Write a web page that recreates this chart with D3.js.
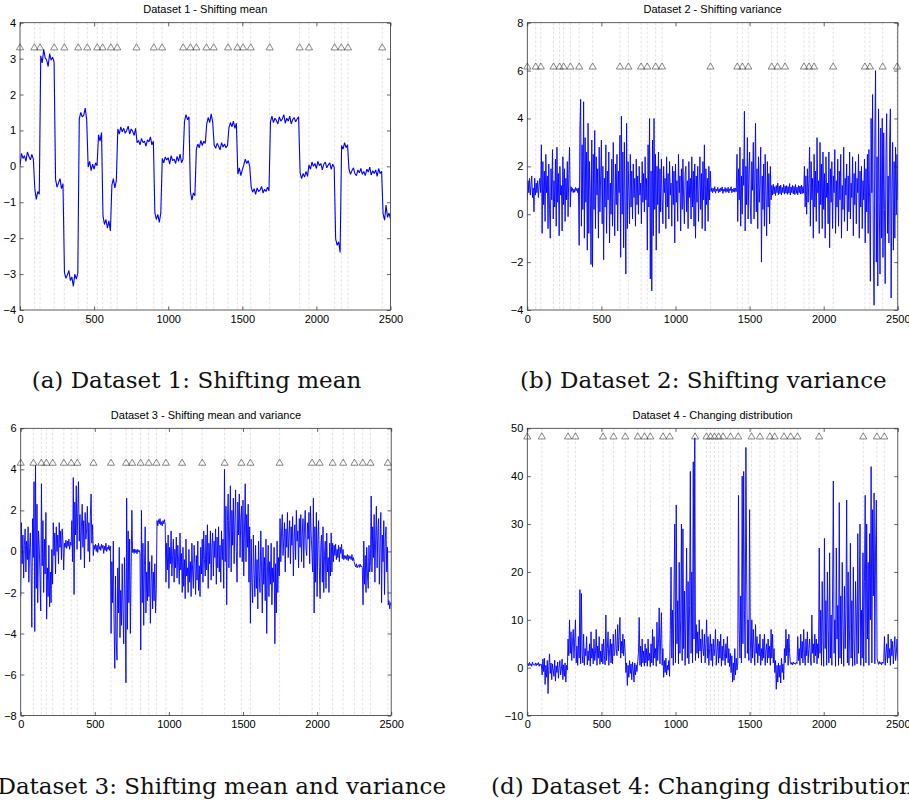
<!DOCTYPE html>
<html>
<head>
<meta charset="utf-8">
<script src="https://cdn.jsdelivr.net/npm/d3@7"></script>
<style>
  body { margin: 0; background: #fff; }
  svg { display: block; }
</style>
</head>
<body>
<svg id="fig" width="909" height="807"></svg>
<script>
// ---- data -------------------------------------------------------------
// time between stored samples of each series (t runs 0 .. 2500)
const sampleSteps = [10, 5, 5, 5];
const xTicks = [0, 500, 1000, 1500, 2000, 2500];

const titles = [
  "Dataset 1 - Shifting mean",
  "Dataset 2 - Shifting variance",
  "Dataset 3 - Shifting mean and variance",
  "Dataset 4 - Changing distribution"
];
const captions = [
  "(a) Dataset 1: Shifting mean",
  "(b) Dataset 2: Shifting variance",
  "(c) Dataset 3: Shifting mean and variance",
  "(d) Dataset 4: Changing distribution"
];

const yTicks1 = [-4, -3, -2, -1, 0, 1, 2, 3, 4];
const yTicks2 = [-4, -2, 0, 2, 4, 6, 8];
const yTicks3 = [-8, -6, -4, -2, 0, 2, 4, 6];
const yTicks4 = [-10, 0, 10, 20, 30, 40, 50];

// level at which the change-point markers sit
const markerLevels = [3.3, 6.15, 4.3, 48.2];

const changes1 = [0, 97, 135, 231, 299, 393, 454, 521, 557, 613, 656, 786, 903, 959, 1101,
  1150, 1190, 1258, 1307, 1404, 1467, 1505, 1557, 1685, 1887, 1950, 2123, 2168, 2213, 2444];
const changes2 = [0, 57, 91, 177, 218, 245, 291, 350, 441, 625, 682, 768, 809, 866, 909,
  1236, 1417, 1451, 1491, 1649, 1688, 1739, 1867, 1901, 1935, 2064, 2278, 2312, 2398, 2495];
const changes3 = [0, 86, 139, 173, 216, 291, 341, 382, 491, 609, 711, 752, 809, 864, 916,
  980, 1089, 1225, 1376, 1489, 1550, 1747, 1966, 2017, 2105, 2176, 2252, 2308, 2360, 2477];
const changes4 = [0, 98, 275, 325, 511, 582, 661, 745, 791, 830, 916, 961, 1132, 1209, 1236,
  1263, 1291, 1321, 1371, 1423, 1513, 1570, 1637, 1669, 1732, 1777, 1823, 1969, 2267, 2359, 2409];

// one row = 100 time units
const series1 = [
  0.02, 0.36, 0.22, 0.30, 0.14, 0.40, 0.28, 0.18, 0.33, 0.20,
  -0.62, -0.92, -0.70, -0.78, 3.08, 2.88, 3.26, 3.02, 2.96, 2.78,
  3.14, 2.96, 3.04, 2.90, -0.36, -0.58, -0.46, -0.34, -0.62, -0.48,
  -2.96, -3.12, -3.02, -2.90, -3.18, -3.08, -3.34, -3.00, -3.14, -2.98,
  1.32, 1.50, 1.38, 1.42, 1.62, 1.30, -0.02, 0.14, -0.12, 0.06,
  -0.08, 0.10, 0.02, 0.88, 0.70, 0.94, -1.38, -1.62, -1.48, -1.72,
  -1.52, -1.80, -0.52, -0.34, -0.60, -0.40, 1.04, 0.90, 1.10, 0.96,
  1.06, 0.92, 1.00, 1.12, 0.90, 1.04, 0.98, 0.86, 1.06, 0.66,
  0.72, 0.60, 0.78, 0.66, 0.70, 0.56, 0.74, 0.68, 0.82, 0.60,
  0.70, -1.28, -1.48, -1.34, -1.56, -1.30, 0.22, 0.10, 0.26, 0.18,
  0.24, 0.06, 0.30, 0.16, 0.20, 0.08, 0.28, 0.14, 0.34, 0.10,
  0.20, 1.26, 1.44, 1.30, 1.38, -0.70, -0.94, -0.74, -0.82, 0.48,
  0.62, 0.52, 0.72, 0.58, 0.70, 0.64, 1.18, 1.36, 1.22, 1.46,
  1.24, 0.60, 0.50, 0.64, 0.56, 0.46, 0.66, 0.54, 0.62, 0.52,
  0.58, 1.08, 1.22, 1.10, 1.26, 1.06, 1.20, -0.22, -0.04, -0.26,
  -0.10, 0.04, 0.20, 0.08, 0.16, 0.00, -0.58, -0.72, -0.62, -0.78,
  -0.60, -0.70, -0.66, -0.56, -0.74, -0.64, -0.70, -0.58, -0.68, 1.24,
  1.40, 1.22, 1.34, 1.28, 1.18, 1.38, 1.26, 1.32, 1.44, 1.20,
  1.34, 1.26, 1.40, 1.18, 1.30, 1.36, 1.24, 1.32, 1.38, -0.18,
  -0.34, -0.20, -0.30, -0.14, -0.28, 0.04, -0.08, 0.12, 0.00, 0.08,
  -0.06, 0.14, 0.02, 0.08, -0.10, 0.06, 0.12, -0.04, 0.04, 0.10,
  -0.08, 0.06, -0.02, -2.02, -2.20, -2.10, -2.40, 0.58, 0.48, 0.66,
  0.52, 0.60, -0.08, -0.22, -0.12, -0.04, -0.20, -0.26, -0.10, -0.18,
  -0.06, -0.22, -0.14, -0.26, -0.08, -0.16, -0.02, -0.24, -0.12, -0.20,
  -0.10, -0.28, -0.06, -0.20, -0.14, -1.32, -1.50, -1.08, -1.42, -1.30,
  -1.46
];

// one row = 50 time units
const series2 = [
  0.6, 1.4, 0.9, 1.5, 0.8, 1.2, 1.6, 0.7, 1.1, 0.1,
  1.5, 0.8, 1.3, 0.9, 1.4, 0.7, 1.2, 1.5, 0.9, 2.9,
  -0.8, 2.2, 0.4, 1.8, -0.3, 2.5, 0.9, 1.6, -0.6, 2.1,
  0.2, -1.0, 1.9, 0.6, 2.7, -0.2, 1.4, 0.3, 2.3, -0.5,
  2.8, 0.5, 1.7, -0.9, 2.0, 0.8, 1.2, -0.7, 2.4, 0.4,
  1.9, -0.3, 1.5, 0.6, 2.2, -0.1, 1.7, 2.8, 0.3, 1.15,
  0.95, 1.1, 0.9, 1.05, 0.92, 1.12, 0.98, 1.08, 0.9, 1.1,
  -1.3, 3.6, 4.8, -0.5, 2.9, 0.2, 4.7, -1.0, 3.2, 0.5,
  2.6, -1.5, 3.8, -0.8, 2.2, 1.0, -2.1, 3.1, -2.2, 2.5,
  0.2, 3.5, -0.6, 2.4, 0.8, 1.9, -1.0, 2.8, 0.1, 1.6,
  3.1, -0.4, 2.0, -1.9, 1.5, 0.3, 2.9, -0.8, 1.8, 0.6,
  2.6, -1.2, 1.3, 0.0, 2.3, -0.5, 3.0, 0.7, -0.9, 2.1,
  0.4, 2.5, -0.7, 1.8, 0.9, 3.3, -1.8, 4.1, 0.0, 2.6,
  -1.4, 3.0, 0.5, -2.5, 3.8, -0.6, 2.2, 1.0, -0.4, 2.5,
  0.3, 1.8, -0.2, 2.1, 0.7, 1.5, -0.5, 2.3, 0.4, 1.6,
  0.0, 2.0, 0.8, 1.3, -0.4, 2.2, 0.5, 1.7, 0.1, 2.4,
  0.6, 1.5, -1.5, 2.9, 0.3, 4.0, -2.7, 1.8, -3.2, 3.1,
  -0.9, 4.0, 0.2, 2.5, -1.5, 2.0, 0.4, 2.6, -0.8, 1.9,
  0.1, 2.3, 0.6, -0.4, 2.0, 0.9, 1.5, -0.6, 2.4, 0.3,
  1.7, -0.2, 2.2, 0.8, 1.3, -0.5, 2.0, 0.4, 1.8, -1.2,
  2.1, 0.5, 1.4, -0.3, 2.5, 0.9, 1.6, -0.7, 1.9, 0.2,
  2.3, 0.6, -0.4, 1.7, 2.0, 0.1, 1.4, -0.6, 2.2, 0.7,
  1.5, -0.2, 2.4, 0.3, 1.8, -0.5, 2.1, -1.0, 1.6, 0.5,
  2.0, -0.3, 1.3, 2.4, 0.2, 1.7, -0.6, 2.2, 0.6, 2.9,
  -0.7, 1.9, 0.4, 1.5, -0.3, 2.0, 0.6, 1.8, 0.95, 1.1,
  0.9, 1.08, 0.95, 1.15, 0.88, 1.05, 0.97, 1.12, 0.9, 1.06,
  0.93, 1.1, 0.98, 1.14, 0.87, 1.04, 0.96, 1.12, 0.91, 1.07,
  0.95, 1.13, 0.89, 1.06, 0.99, 1.15, 0.9, 1.05, 0.94, 1.1,
  0.92, 1.08, 0.95, 2.5, -0.3, 1.9, 0.6, 2.8, -0.5, 1.6,
  0.0, 2.3, 1.2, 4.3, -0.7, 2.0, 0.4, 3.2, -0.2, 1.7,
  2.6, 0.3, -0.4, 2.2, 1.0, 3.0, -0.2, 1.5, 3.8, 0.1,
  1.9, -0.6, 2.4, 0.5, 1.3, 2.8, -2.0, 1.6, 0.2, 2.1,
  -0.5, 2.5, 0.8, -0.9, 2.2, 0.3, 1.7, -0.4, 2.0, 0.6,
  1.2, 0.8, 1.25, 0.85, 1.15, 0.78, 1.2, 0.9, 1.3, 0.82,
  1.18, 0.86, 1.22, 0.8, 1.12, 0.9, 1.25, 0.84, 1.17, 0.88,
  1.2, 0.83, 1.15, 0.88, 1.28, 0.8, 1.14, 0.9, 1.21, 0.85,
  1.16, 0.82, 1.24, 0.87, 1.13, 0.81, 1.2, 0.9, 1.18, 0.84,
  1.22, 0.86, 1.15, 0.88, 2.0, 0.3, 1.6, 0.0, 1.9, 0.5,
  1.4, 2.8, -0.5, 2.2, 0.6, 1.5, -1.0, 2.5, 0.3, 1.8,
  -0.3, 3.2, 0.9, 1.4, -0.8, 3.0, 0.4, 2.1, -0.6, 2.6,
  0.2, 1.7, -1.0, 2.4, 0.7, 1.3, -0.4, 2.6, -1.4, 1.9,
  0.5, 2.2, -0.6, 1.6, 0.9, 2.7, -0.8, 1.4, 0.3, 2.3,
  -0.5, 1.8, 0.6, 2.5, -1.0, 1.2, 0.2, 2.8, -0.3, 1.5,
  0.8, 2.1, -0.7, 1.6, 0.1, 2.6, -0.2, 1.3, 0.7, 2.4,
  -0.9, 1.7, 0.4, 2.2, -0.4, 1.5, 0.9, 2.5, -1.0, 1.8,
  0.3, 2.0, -0.6, 1.4, 0.6, 2.3, -1.2, 1.9, 0.1, 2.5,
  -0.8, 2.7, 0.4, -2.8, 4.0, 0.9, 5.0, -1.5, -3.8, 3.3,
  6.0, -2.0, 2.4, -3.0, 4.4, 0.5, -2.5, 3.6, -1.0, 4.0,
  -1.8, 3.4, 0.2, -2.9, 2.5, 4.2, -0.8, 1.6, -1.2, 3.1,
  4.4, -3.5, 1.0, 3.0, -1.5, 2.2, -1.0, 2.8, 0.0, 2.5,
  0.6
];

const series3 = [
  -2.2, 1.4, -0.6, 0.8, -1.3, 0.3, 1.1, -1.0, 0.5, -0.4,
  1.2, -1.5, 0.2, 0.9, -0.8, -3.7, 1.6, -0.3, 3.4, -3.9,
  4.2, -1.8, 2.3, -2.5, 1.0, 0.3, -1.2, -2.9, 3.3, -0.7,
  1.5, -2.0, 0.6, -1.1, 1.9, -3.3, -0.8, -2.2, 0.3, -2.7,
  -1.0, -2.5, 0.1, -1.6, 1.4, -0.2, 0.9, -1.1, 1.2, 0.0,
  0.8, -0.6, 1.4, 0.2, 1.0, -0.4, 1.1, 0.5, -0.9, 0.4,
  0.2, 0.55, 0.15, 0.5, 0.25, 0.6, 0.1, 0.45, 0.3, 1.5,
  -0.5, 3.6, -2.1, 2.4, 0.8, 3.2, 0.1, 2.0, 3.4, 0.5,
  1.8, -0.4, 1.2, 2.3, 0.2, 1.5, -0.8, 1.9, 0.6, 1.1,
  2.2, 0.0, 1.4, -0.5, 1.7, 2.8, 0.4, 1.3, -0.2, 0.3,
  0.1, 0.35, 0.0, 0.3, -0.05, 0.4, 0.1, 0.25, 0.05, 0.35,
  0.15, 0.3, -0.1, 0.25, 0.05, 0.4, 0.0, 0.2, 0.1, 0.3,
  0.05, 0.25, -4.0, -0.5, -2.5, 0.5, -3.5, -5.7, -1.2, -4.4,
  -5.3, -0.8, -3.0, 0.2, -4.2, -1.9, -3.6, -0.6, -2.8, -4.5,
  -0.3, -2.2, -6.4, 2.6, -3.8, 1.0, -2.5, 0.6, -4.0, -1.0,
  2.0, -0.05, 0.1, -0.1, 0.12, -0.05, 0.08, -0.12, 0.1, -0.02,
  0.05, -0.1, -4.8, 2.0, -2.5, 0.4, -3.6, -0.7, 1.2, -3.0,
  -1.0, -2.4, 0.5, -2.2, -0.5, -3.5, -1.5, -0.2, -2.8, -1.0,
  -2.4, -0.6, -3.0, -1.8, 1.5, 1.25, 1.55, 1.35, 1.6, 1.3,
  1.45, 1.25, 1.5, 1.35, 1.55, 1.3, -1.5, 0.4, -0.9, 0.8,
  -1.8, 0.2, -0.6, 1.0, -1.2, -0.2, 0.6, -1.5, 0.1, -0.8,
  0.7, -1.3, 0.3, -0.5, -1.6, 0.9, -0.9, -0.1, -2.0, 0.2,
  -1.7, -0.4, -2.3, 0.6, -1.2, -0.8, -2.0, 0.1, -1.5, -0.5,
  -2.2, 0.4, -1.0, -1.8, 0.3, -0.6, -2.1, -0.2, -1.4, 0.5,
  -1.9, -0.7, -2.2, 0.2, -1.1, 0.6, -1.5, 1.0, -0.4, -1.2,
  0.8, -0.9, 1.3, -1.8, 0.4, -0.6, 1.0, -1.4, 0.2, 0.9,
  -1.2, 0.5, -0.3, 1.1, -1.6, 0.7, -0.8, 1.2, -1.0, 0.3,
  -1.5, 1.0, -0.4, 0.6, -1.8, 4.0, -0.5, 2.2, -2.6, 1.5,
  2.8, -0.8, 1.2, 3.2, -1.0, 2.0, 0.3, 2.6, -0.6, 1.4,
  3.0, 0.0, -1.5, 2.4, 0.8, 2.8, -0.3, 1.6, 2.2, -0.5,
  2.5, -1.2, 1.0, 3.3, -0.5, 1.8, 0.2, 2.3, -1.5, 1.2,
  -3.5, 0.6, -1.5, -2.5, 0.8, -1.0, -2.2, 0.3, -1.8, -0.4,
  -2.8, 0.5, -1.2, -2.0, 1.0, -0.8, -3.0, 0.2, -1.6, -0.3,
  -2.4, 0.6, -4.0, -1.0, 0.3, -2.2, -0.5, -1.6, 0.4, -2.6,
  -0.8, -1.5, 0.2, -4.5, -0.6, -3.0, 0.5, -2.0, -0.3, -1.2,
  1.6, -0.5, 0.9, 1.8, -0.2, 0.6, 1.4, -1.0, 1.1, 0.2,
  1.9, -0.3, 0.8, 1.5, -0.6, 1.2, 0.3, 1.7, -1.2, 0.7,
  1.3, -0.4, 2.0, 0.5, 1.0, -0.8, 1.6, 0.2, 1.8, -0.5,
  0.9, 1.6, -0.8, 1.2, 2.0, 0.1, -0.2, 1.4, 0.6, 1.9,
  -0.6, 2.2, 0.8, 0.0, -1.0, 2.6, -3.0, 1.2, -1.5, 1.9,
  -2.2, 0.6, 1.5, -0.8, -2.3, 0.3, 0.8, -1.5, 1.2, -2.0,
  -0.2, 0.5, -1.8, 0.9, -1.0, -0.3, -2.0, 0.4, -1.2, 0.9,
  -1.0, 0.4, -0.5, 0.3, -0.2, 0.35, -0.4, 0.1, -0.3, 0.3,
  -0.5, 0.2, -0.1, 0.35, -0.35, 0.1, -0.4, -0.2, -0.35, -0.2,
  -0.4, -0.15, -0.45, -0.2, -0.35, -0.25, -0.4, -0.15, -0.45, -0.3,
  -0.5, -0.65, -0.75, -0.6, -0.8, -0.7, -0.65, -0.78, -0.62, -0.75,
  -0.7, -0.8, -2.6, 0.5, -1.6, -0.2, -2.0, 0.2, -1.2, -1.8,
  0.3, -1.0, -0.5, 2.7, -1.0, 1.2, -0.3, 1.8, -1.5, 0.6,
  2.2, -0.8, 1.0, 1.6, -1.6, 0.4, 1.9, -2.5, 0.8, -0.5,
  1.5, -2.1, 0.6, 1.2, -1.0, 0.2, -2.6, -2.4, -2.8, -2.5,
  -2.6
];

const series4 = [
  0.6, 0.9, 0.4, 1.1, 0.5, 0.8, 0.3, 1.2, 0.6, 0.7,
  0.5, 1.0, 0.4, 0.9, 0.6, 1.1, 0.3, 0.8, 0.5, 0.7,
  -1.5, 1.8, -0.8, 2.0, -3.5, 0.5, -2.0, 1.5, -5.4, 0.2,
  2.9, -1.2, 1.0, -2.5, 0.8, -0.5, -1.8, 1.6, -2.8, 0.4,
  -1.0, 1.2, -2.2, 0.0, 1.5, -1.5, -0.3, 1.8, -2.5, 0.6,
  -1.8, 1.0, -3.0, 0.5, -0.5, 6.0, 2.5, 10.0, 3.0, 7.5,
  1.5, 5.5, 8.0, 2.0, 6.0, 10.0, 1.0, 4.5, 0.5, 6.5,
  2.0, 16.3, 0.8, 15.5, 3.0, 1.0, 7.0, 0.5, 4.0, 2.5,
  6.5, 0.6, 3.5, 1.5, 5.0, 0.3, 7.5, 2.0, 4.0, 0.8,
  6.0, 1.5, 3.0, 8.0, 0.5, 4.5, 2.0, 6.5, 0.7, 3.5,
  1.2, 5.0, 0.8, 6.0, 2.5, 0.6, 11.0, 1.5, 4.0, 7.5,
  0.5, 3.5, 6.0, 1.0, 5.0, 0.8, 7.0, 2.5, 3.0, 8.0,
  4.0, 2.5, 9.0, 3.5, 6.5, 10.5, 2.0, 5.5, 3.0, 7.0,
  2.5, 6.0, 3.5, -1.0, 1.0, -3.7, 0.5, -2.0, 1.5, -1.2,
  0.8, -2.5, 1.2, -0.5, -3.0, 1.0, -1.5, 0.6, -0.8, 1.3,
  3.0, 10.5, 0.5, 4.5, 0.2, 6.0, 1.0, 3.5, 0.3, 5.0,
  1.0, 4.0, 0.3, 6.0, 1.5, 3.0, 0.2, 5.0, 1.0, 8.0,
  0.5, 6.5, 2.0, 4.0, 0.3, 9.5, 1.5, 5.0, 12.5, 0.8,
  6.0, 11.5, 0.5, 4.0, -2.0, 1.5, -1.0, 2.0, -1.5, 0.5,
  -0.5, 1.5, -1.8, 8.0, 21.0, 2.0, 12.0, 0.5, 17.0, 30.0,
  1.0, 34.0, 5.0, 14.0, 0.8, 22.0, 3.0, 10.0, 30.0, 1.5,
  29.0, 4.0, 16.0, 0.5, 11.0, 25.0, 2.0, 18.0, 0.8, 13.0,
  41.0, 3.0, 20.0, 1.0, 43.0, 6.0, 48.0, 1.5, 9.0, 3.0,
  7.5, 2.0, 10.0, 3.5, 6.0, 1.0, 8.0, 4.0, 2.5, 7.0,
  1.0, 5.0, 10.0, 2.0, 6.5, 0.5, 4.0, 7.0, 1.5, 5.0,
  0.3, 6.0, 2.5, 4.0, 8.0, 0.5, 3.5, 6.0, 1.0, 5.5,
  2.0, 7.0, 0.3, 4.5, 1.5, 6.0, 3.0, 0.5, 5.0, 2.0,
  6.5, 1.0, 4.0, 0.2, 3.0, -1.0, 2.5, -3.0, 1.0, -2.6,
  4.0, -1.5, 2.0, -0.5, 1.0, 36.0, 8.0, 2.0, 15.0, 1.0,
  40.0, 5.0, 41.0, 12.0, 2.0, 46.0, 20.0, 3.0, 10.0, 1.5,
  33.0, 6.0, 1.0, 10.0, 2.0, 8.0, 4.0, 0.5, 9.0, 3.0,
  6.5, 1.0, 5.0, 2.5, 7.0, 0.5, 4.0, 1.5, 6.0, 2.0,
  7.0, 0.5, 3.5, 5.0, 1.0, 6.0, 2.0, 4.5, 0.5, 8.0,
  2.0, 7.0, 1.0, 4.0, -1.0, 1.5, -4.5, 0.5, -3.0, 1.0,
  -2.0, 0.5, -3.2, 2.0, -1.0, 0.8, -2.5, 4.0, 1.0, 8.0,
  2.5, 6.0, 0.5, 7.0, 3.0, 1.0, 0.7, 1.1, 0.6, 1.2,
  0.8, 1.0, 0.7, 1.1, 0.9, 6.5, 1.5, 4.0, 0.5, 7.0,
  2.0, 5.5, 1.0, 8.0, 3.0, 0.5, 6.0, 2.5, 7.5, 1.0,
  4.0, 6.0, 2.0, 0.5, 11.0, 3.0, 5.0, 1.0, 7.0, 2.5,
  6.0, 0.8, 5.0, 2.0, 25.0, 3.0, 12.0, 0.5, 18.0, 6.0,
  0.3, 27.0, 4.0, 14.0, 0.5, 20.0, 8.0, 1.0, 24.0, 2.0,
  11.0, 0.5, 16.0, 39.0, 3.0, 10.0, 0.3, 25.0, 6.0, 13.0,
  0.5, 34.5, 2.0, 15.0, 0.8, 22.0, 9.0, 0.3, 17.0, 4.0,
  12.0, 35.0, 1.0, 20.0, 0.5, 8.0, 26.0, 2.0, 14.0, 0.3,
  21.0, 5.0, 0.5, 18.0, 11.0, 0.8, 28.0, 3.0, 15.0, 30.0,
  0.5, 12.0, 2.0, 24.0, 0.3, 18.0, 36.0, 1.0, 30.0, 6.0,
  22.0, 0.5, 28.0, 10.0, 42.0, 1.0, 33.0, 15.0, 36.5, 0.8,
  25.0, 35.0, 2.0, 1.2, 0.7, 1.3, 0.8, 1.1, 0.6, 1.2,
  0.9, 1.3, 6.5, 0.5, 3.0, 5.0, 1.0, 7.0, 2.0, 4.0,
  0.5, 6.0, 2.5, 5.5, 0.8, 4.0, 6.5, 1.5, 3.0, 6.0,
  1.5
];

// ---- layout -----------------------------------------------------------
const plotW = 370.5, plotH = 287.3;
const frames = [
  { left: 20,   top: 22.7 },
  { left: 527.3, top: 22.7 },
  { left: 20.7, top: 428.3 },
  { left: 527.3, top: 428.3 }
];
const captionSpots = [
  { x: 31.7, y: 388, anchor: "start" },
  { x: 520,  y: 388, anchor: "start" },
  { x: 446,  y: 794, anchor: "end" },
  { x: 491,  y: 794, anchor: "start" }
];
const strokeWidths = [1.1, 0.9, 0.9, 0.9];

const panels = [
  { series: series1, changes: changes1, yTicks: yTicks1 },
  { series: series2, changes: changes2, yTicks: yTicks2 },
  { series: series3, changes: changes3, yTicks: yTicks3 },
  { series: series4, changes: changes4, yTicks: yTicks4 }
].map((p, i) => ({ ...p, title: titles[i], caption: captions[i], marker: markerLevels[i],
  step: sampleSteps[i], frame: frames[i], cap: captionSpots[i], sw: strokeWidths[i] }));

const svg = d3.select("#fig");
svg.append("rect").attr("width", 909).attr("height", 807).attr("fill", "#fff");

const tri = d3.symbol().type(d3.symbolTriangle).size(22);

panels.forEach((p, i) => {
  const g = svg.append("g").attr("transform", `translate(${p.frame.left},${p.frame.top})`);
  const x = d3.scaleLinear().domain([0, 2500]).range([0, plotW]);
  const y = d3.scaleLinear().domain(d3.extent(p.yTicks)).range([plotH, 0]);

  g.append("clipPath").attr("id", "clip" + i)
    .append("rect").attr("width", plotW).attr("height", plotH);

  // change-point guides
  g.append("g").selectAll("line").data(p.changes.filter(c => c > 0)).join("line")
    .attr("x1", d => x(d)).attr("x2", d => x(d))
    .attr("y1", 0).attr("y2", plotH)
    .attr("stroke", "#d4d4d4").attr("stroke-width", 0.7)
    .attr("stroke-dasharray", "2.5,2");

  // signal
  const line = d3.line()
    .x((d, k) => x(k * p.step))
    .y(d => y(d));
  g.append("path").datum(p.series)
    .attr("clip-path", `url(#clip${i})`)
    .attr("d", line)
    .attr("fill", "none")
    .attr("stroke", "#0000ff")
    .attr("stroke-width", p.sw)
    .attr("stroke-linejoin", "bevel");

  // change-point markers
  g.append("g").selectAll("path").data(p.changes).join("path")
    .attr("d", tri)
    .attr("transform", d => `translate(${x(d)},${y(p.marker)})`)
    .attr("fill", "none")
    .attr("stroke", "#3a3a3a")
    .attr("stroke-width", 0.6);

  // axes with inward ticks on all four sides
  const tick = 3.6;
  const styleAxis = sel => {
    sel.select(".domain").remove();
    sel.selectAll(".tick line").attr("stroke", "#222").attr("stroke-width", 0.7);
    sel.selectAll(".tick text")
      .attr("font-family", "'Liberation Sans', Arial, sans-serif")
      .attr("font-size", 11).attr("fill", "#000");
  };
  g.append("g").attr("transform", `translate(0,${plotH})`)
    .call(d3.axisBottom(x).tickValues(xTicks).tickSize(-tick).tickPadding(5).tickFormat(d3.format("d")))
    .call(styleAxis);
  g.append("g")
    .call(d3.axisTop(x).tickValues(xTicks).tickSize(-tick).tickFormat(""))
    .call(styleAxis);
  g.append("g")
    .call(d3.axisLeft(y).tickValues(p.yTicks).tickSize(-tick).tickPadding(4).tickFormat(d3.format("d")))
    .call(styleAxis);
  g.append("g").attr("transform", `translate(${plotW},0)`)
    .call(d3.axisRight(y).tickValues(p.yTicks).tickSize(-tick).tickFormat(""))
    .call(styleAxis);
  g.selectAll(".tick text").filter(function () { return this.textContent === ""; }).remove();

  g.append("rect").attr("width", plotW).attr("height", plotH)
    .attr("fill", "none").attr("stroke", "#333").attr("stroke-width", 0.8);

  // panel title
  g.append("text")
    .attr("x", plotW / 2).attr("y", -9.4)
    .attr("text-anchor", "middle")
    .attr("font-family", "'Liberation Sans', Arial, sans-serif")
    .attr("font-size", 11).attr("fill", "#000")
    .text(p.title);

  // sub-figure caption
  svg.append("text")
    .attr("x", p.cap.x).attr("y", p.cap.y)
    .attr("text-anchor", p.cap.anchor)
    .attr("font-family", "'DejaVu Serif', serif")
    .attr("font-size", 23).attr("fill", "#111")
    .text(p.caption);
});
</script>
</body>
</html>
